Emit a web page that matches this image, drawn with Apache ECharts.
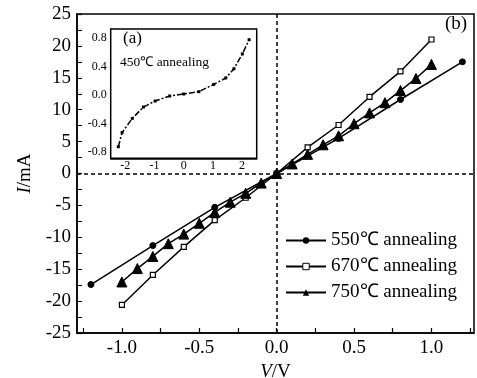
<!DOCTYPE html>
<html>
<head>
<meta charset="utf-8">
<script src="https://cdn.jsdelivr.net/npm/echarts@6/dist/echarts.min.js"></script>
<style>
html,body{margin:0;padding:0;background:#fff;}
#c{width:477px;height:378px;}
</style>
</head>
<body>
<div id="c"></div>
<script>
// ---- data ----
const v550 = [-1.2, -0.8, -0.4, 0, 0.4, 0.8, 1.2];
const i550 = [-17.4, -11.3, -5.3, 0, 5.5, 11.6, 17.5];
const v670 = [-1.0, -0.8, -0.6, -0.4, -0.2, 0, 0.2, 0.4, 0.6, 0.8, 1.0];
const i670 = [-20.6, -15.9, -11.5, -7.3, -3.8, 0, 4.1, 7.6, 12.0, 16.0, 21.0];
const v750 = [-1.0, -0.9, -0.8, -0.7, -0.6, -0.5, -0.4, -0.3, -0.2, -0.1, 0, 0.1, 0.2, 0.3, 0.4, 0.5, 0.6, 0.7, 0.8, 0.9, 1.0];
const i750 = [-17.0, -14.9, -13.0, -11.0, -9.5, -7.8, -6.1, -4.5, -3.1, -1.5, 0, 1.5, 3.0, 4.5, 5.9, 7.8, 9.5, 11.1, 13.0, 14.9, 17.1];
const insetV = [-2.24, -2.11, -1.76, -1.38, -0.98, -0.48, 0, 0.52, 1.03, 1.44, 1.72, 2.01, 2.24];
const insetI = [-0.73, -0.53, -0.33, -0.17, -0.085, -0.014, 0.014, 0.047, 0.15, 0.24, 0.37, 0.58, 0.78];
const seriesNames = ['550\u2103 annealing', '670\u2103 annealing', '750\u2103 annealing'];
const mainXLabels = [-1.0, -0.5, 0, 0.5, 1.0];
const mainYLabels = [-25, -20, -15, -10, -5, 0, 5, 10, 15, 20, 25];
const insetXLabels = [-2, -1, 0, 1, 2];
const insetYLabels = [-0.8, -0.4, 0, 0.4, 0.8];

const pair = (xs, ys) => xs.map((x, k) => [x, ys[k]]);
const FONT = "'Liberation Serif','Times New Roman',serif";
const black = '#000';

const chart = echarts.init(document.getElementById('c'), null, {renderer: 'canvas'});

const lineBase = {
  type: 'line', xAxisIndex: 0, yAxisIndex: 0,
  lineStyle: {color: black, width: 1.5},
  itemStyle: {color: black, borderColor: black},
  showSymbol: true, animation: false, z: 5
};

chart.setOption({
  animation: false,
  backgroundColor: '#fff',
  textStyle: {fontFamily: FONT, color: black},
  grid: [
    {left: 77, right: 3, top: 14, bottom: 45, show: true, borderColor: black, borderWidth: 1.5, backgroundColor: 'transparent', containLabel: false, outerBoundsMode: 'none'},
    {left: 110.7, width: 146, top: 29, height: 129.3, show: true, borderColor: black, borderWidth: 1.5, backgroundColor: '#fff', z: 10, containLabel: false, outerBoundsMode: 'none'}
  ],
  xAxis: [
    {
      gridIndex: 0, type: 'value', min: -1.29, max: 1.275,
      axisLine: {show: true, onZero: false, lineStyle: {color: black, width: 1.5}},
      axisTick: {show: true, inside: true, length: 5, lineStyle: {color: black, width: 1.2},
        customValues: [-1.25, -1.0, -0.75, -0.5, -0.25, 0, 0.25, 0.5, 0.75, 1.0, 1.25]},
      axisLabel: {customValues: mainXLabels, formatter: v => Number(v).toFixed(1), color: black, fontFamily: FONT, fontSize: 19, margin: 6},
      splitLine: {show: false},
      name: '{i|V}/V', nameLocation: 'middle', nameGap: 22,
      nameTextStyle: {color: black, fontFamily: FONT, fontSize: 19, rich: {i: {fontStyle: 'italic', fontFamily: FONT, fontSize: 19}}}
    },
    {
      gridIndex: 1, type: 'value', min: -2.5, max: 2.5,
      axisLine: {show: true, onZero: false, lineStyle: {color: black, width: 1.5}},
      axisTick: {show: true, inside: true, length: 3, lineStyle: {color: black, width: 1},
        customValues: [-2, -1.5, -1, -0.5, 0, 0.5, 1, 1.5, 2]},
      axisLabel: {customValues: insetXLabels, color: black, fontFamily: FONT, fontSize: 12, margin: 2},
      splitLine: {show: false}
    }
  ],
  yAxis: [
    {
      gridIndex: 0, type: 'value', min: -25, max: 25,
      axisLine: {show: true, onZero: false, lineStyle: {color: black, width: 1.5}},
      axisTick: {show: true, inside: true, length: 5, lineStyle: {color: black, width: 1.2},
        customValues: [-25, -22.5, -20, -17.5, -15, -12.5, -10, -7.5, -5, -2.5, 0, 2.5, 5, 7.5, 10, 12.5, 15, 17.5, 20, 22.5, 25]},
      axisLabel: {customValues: mainYLabels, color: black, fontFamily: FONT, fontSize: 19, margin: 6},
      splitLine: {show: false},
      name: '{i|I}/mA', nameLocation: 'middle', nameGap: 38, nameRotate: 90,
      nameTextStyle: {color: black, fontFamily: FONT, fontSize: 19, rich: {i: {fontStyle: 'italic', fontFamily: FONT, fontSize: 19}}}
    },
    {
      gridIndex: 1, type: 'value', min: -0.893, max: 0.931,
      axisLine: {show: true, onZero: false, lineStyle: {color: black, width: 1.5}},
      axisTick: {show: true, inside: true, length: 3, lineStyle: {color: black, width: 1},
        customValues: [-0.8, -0.6, -0.4, -0.2, 0, 0.2, 0.4, 0.6, 0.8]},
      axisLabel: {customValues: insetYLabels, formatter: v => Number(v).toFixed(1), color: black, fontFamily: FONT, fontSize: 12, margin: 4},
      splitLine: {show: false}
    }
  ],
  legend: {
    orient: 'vertical', left: 280, top: 226, itemGap: 7,
    itemWidth: 40, itemHeight: 8,
    textStyle: {color: black, fontFamily: FONT, fontSize: 19},
    data: [
      {name: seriesNames[0]},
      {name: seriesNames[1], itemStyle: {borderWidth: 1}},
      {name: seriesNames[2]}
    ]
  },
  graphic: [
    {type: 'text', left: 445, top: 15, z: 20, style: {text: '(b)', font: "19px 'Liberation Serif', serif", fill: black}},
    {type: 'text', left: 123, top: 30, z: 20, style: {text: '(a)', font: "17px 'Liberation Serif', serif", fill: black}},
    {type: 'text', left: 120, top: 55, z: 20, style: {text: '450\u2103 annealing', font: "13.5px 'Liberation Serif', serif", fill: black}}
  ],
  series: [
    Object.assign({}, lineBase, {
      name: seriesNames[0], data: pair(v550, i550), symbol: 'circle', symbolSize: 6,
      markLine: {
        silent: true, symbol: 'none', animation: false,
        label: {show: false},
        lineStyle: {color: black, width: 1.5, type: [4, 3]},
        data: [{xAxis: 0}, {yAxis: 0}]
      }
    }),
    Object.assign({}, lineBase, {
      name: seriesNames[1], data: pair(v670, i670), symbol: 'rect', symbolSize: 5,
      itemStyle: {color: '#fff', borderColor: black, borderWidth: 1.2}
    }),
    Object.assign({}, lineBase, {
      name: seriesNames[2], data: pair(v750, i750), symbol: 'triangle', symbolSize: 10
    }),
    {
      type: 'line', xAxisIndex: 1, yAxisIndex: 1, data: pair(insetV, insetI),
      symbol: 'rect', symbolSize: 3, showSymbol: true, z: 12,
      lineStyle: {color: black, width: 1.5, type: [6, 2, 2, 2]},
      itemStyle: {color: black}, animation: false
    }
  ]
});
</script>
</body>
</html>
